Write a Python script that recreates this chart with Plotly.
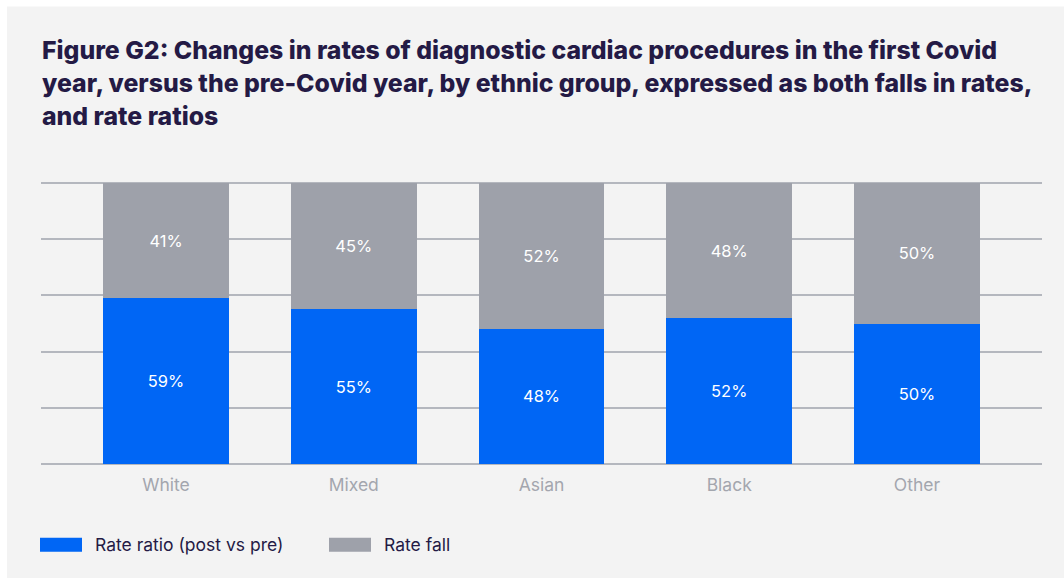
import plotly.graph_objects as go

categories = ["White", "Mixed", "Asian", "Black", "Other"]
rate_ratio = [59, 55, 48, 52, 50]
rate_fall = [41, 45, 52, 48, 50]
series_names = ["Rate ratio (post vs pre)", "Rate fall"]
title_lines = [
    "Figure G2: Changes in rates of diagnostic cardiac procedures in the first Covid",
    "year, versus the pre-Covid year, by ethnic group, expressed as both falls in rates,",
    "and rate ratios",
]

BLUE = "#0066f5"
GREY = "#9ea1aa"
BG = "#f3f3f3"
NAVY = "#241a45"
FONT = "Inter, Noto Sans, sans-serif"

W, H = 1064, 578
Y0_PX, Y100_PX = 464, 183
PAD = 1.5
unit = (Y0_PX - Y100_PX) / 100.0
ML, MR = 41, 22
MT = Y100_PX - PAD * unit
MB = H - (Y0_PX + PAD * unit)
PW = W - ML - MR
PH = H - MT - MB

def px_x(p):
    return (p - ML) / PW

def px_y(p):
    return (H - MB - p) / PH

fig = go.Figure()
for name, vals, col in [(series_names[0], rate_ratio, BLUE), (series_names[1], rate_fall, GREY)]:
    fig.add_trace(go.Bar(
        x=categories, y=vals, name=name, marker=dict(color=col, line=dict(width=0)),
        texttemplate="%{y}%", textposition="inside", insidetextanchor="middle",
        textfont=dict(color="white", size=16.5, family=FONT),
        showlegend=False,
    ))

shapes = [dict(type="rect", xref="paper", yref="paper", layer="below",
               x0=px_x(7), x1=px_x(1070), y0=px_y(585), y1=px_y(6),
               fillcolor=BG, line=dict(width=0))]
annotations = []
for i, line in enumerate(title_lines):
    annotations.append(dict(
        text=line, xref="paper", yref="paper",
        x=px_x(40), y=px_y(50 + i * 33), xanchor="left", yanchor="middle",
        showarrow=False, font=dict(size=24.8, color=NAVY, family=FONT, weight=800), align="left",
    ))

legend_items = [(series_names[0], BLUE, 40), (series_names[1], GREY, 329)]
for name, col, x0 in legend_items:
    shapes.append(dict(type="rect", xref="paper", yref="paper",
                       x0=px_x(x0), x1=px_x(x0 + 42), y0=px_y(552), y1=px_y(538),
                       fillcolor=col, line=dict(width=0)))
    annotations.append(dict(text=name, xref="paper", yref="paper",
                            x=px_x(x0 + 53), y=px_y(545), xanchor="left", yanchor="middle",
                            showarrow=False, font=dict(size=17.5, color=NAVY, family=FONT)))

fig.update_layout(
    width=W, height=H, barmode="stack", bargap=0.329,
    margin=dict(l=ML, r=MR, t=MT, b=MB),
    paper_bgcolor="white", plot_bgcolor="rgba(0,0,0,0)",
    font=dict(family=FONT),
    shapes=shapes, annotations=annotations,
    uniformtext=dict(minsize=16, mode="show"),
)
fig.update_xaxes(range=[-0.666, 4.666], showgrid=False, showline=False, zeroline=False,
                 tickfont=dict(size=17.5, color="#a3a6ae", family=FONT), ticks="outside",
                 ticklen=1, tickcolor="rgba(0,0,0,0)")
fig.update_yaxes(range=[-PAD, 100 + PAD], tickvals=[0, 20, 40, 60, 80, 100], showgrid=True,
                 gridcolor="#b4b7be", gridwidth=1.5,
                 showticklabels=False, zeroline=False, showline=False)

fig.write_html("out.html", config={"displayModeBar": False},
               post_script="document.body.style.margin='0';document.body.style.overflow='hidden';")
